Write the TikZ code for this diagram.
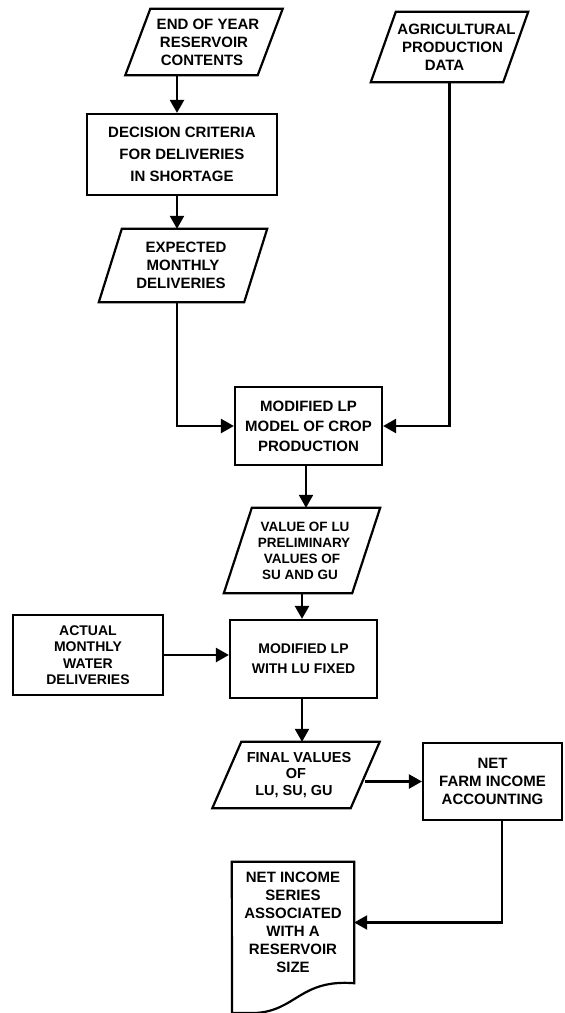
\documentclass[tikz,border=0pt]{standalone}
\usepackage{fontspec}
\setmainfont{Liberation Sans}
\usetikzlibrary{arrows.meta,calc}
\newcommand\paraframe[2]{\draw[box] ([xshift=#2pt]#1.north west) -- ([xshift=#2pt]#1.north east) -- ([xshift=-#2pt]#1.south east) -- ([xshift=-#2pt]#1.south west) -- cycle;}
\begin{document}
\begin{tikzpicture}[x=1pt,y=-1pt,
  box/.style={line width=2.2pt},
  lbl/.style={inner sep=0pt, align=center, font=\bfseries\fontsize{15}{18}\selectfont},
  rbox/.style={lbl, draw, line width=2.2pt},
  arr/.style={line width=2.4pt, -{Triangle[length=13pt,width=14pt]}}]
\path[fill=white, use as bounding box] (0,0) rectangle (565,1013);

\coordinate (colL) at (177,0);
\coordinate (colM) at (306,0);
\coordinate (colR) at (502,0);

\node[lbl, minimum width=132, minimum height=66] (eoy) at (204,42) {\hspace*{8pt}END OF YEAR\\RESERVOIR\\CONTENTS\hspace*{4pt}};
\paraframe{eoy}{12.5}
\node[lbl, minimum width=130, minimum height=70] (agri) at (449.5,47) {\hspace*{14pt}AGRICULTURAL\\\hspace*{6pt}PRODUCTION\\DATA\hspace*{10pt}};
\paraframe{agri}{12.5}
\node[rbox, minimum width=190, minimum height=81, font=\bfseries\fontsize{15}{22}\selectfont] (dec) at (182,154.5) {DECISION CRITERIA\\FOR DELIVERIES\\IN SHORTAGE};
\node[lbl, minimum width=145, minimum height=73] (exp) at (183,265.5) {\hspace*{6pt}EXPECTED\\MONTHLY\\DELIVERIES\hspace*{4pt}};
\paraframe{exp}{11.5}
\node[rbox, minimum width=147, minimum height=78, font=\bfseries\fontsize{15}{20}\selectfont] (lp1) at (308.5,426) {MODIFIED LP\\MODEL OF CROP\\PRODUCTION};
\node[lbl, minimum width=128, minimum height=85, font=\bfseries\fontsize{13.5}{16}\selectfont] (val) at (302,550.5) {\hspace*{6pt}VALUE OF LU\\\hspace*{4pt}PRELIMINARY\\VALUES OF\\SU AND GU\hspace*{4pt}};
\paraframe{val}{14}
\node[rbox, minimum width=147, minimum height=78, font=\bfseries\fontsize{14}{20}\selectfont] (lp2) at (303.5,659) {MODIFIED LP\\WITH LU FIXED};
\node[rbox, minimum width=150, minimum height=80, font=\bfseries\fontsize{14}{16.5}\selectfont] (act) at (88,655) {ACTUAL\\MONTHLY\\WATER\\DELIVERIES};
\node[lbl, minimum width=138, minimum height=66, font=\bfseries\fontsize{14.5}{16.5}\selectfont] (fin) at (296,775) {\hspace*{6pt}FINAL VALUES\\OF\\LU, SU, GU\hspace*{4pt}};
\paraframe{fin}{14.5}
\node[rbox, minimum width=139, minimum height=77] (net) at (492.5,781.5) {NET\\FARM INCOME\\ACCOUNTING};
\node[lbl, minimum width=122, minimum height=121] (ser) at (293,922.5) {NET INCOME\\SERIES\\ASSOCIATED\\WITH A\\RESERVOIR\\SIZE};
\draw[box] (ser.north west) -- (ser.north east) -- (ser.south east) .. controls (300,979) and (296,1011) .. (255,1013) -- (232,1013) -- cycle;

\draw[arr] (eoy.south -| colL) -- (dec.north -| colL);
\draw[arr] (dec.south -| colL) -- (exp.north -| colL);
\draw[arr] (exp.south -| colL) |- (lp1.west);
\draw[arr] (agri.south) |- (lp1.east);
\draw[arr] (lp1.south -| colM) -- (val.north -| colM);
\draw[arr] (val.south) -- (val.south |- lp2.north);
\draw[arr] (act.east) -- (act.east -| lp2.west);
\draw[arr] (lp2.south -| val.south) -- (fin.north -| val.south);
\draw[arr] (fin.east |- net.west) -- (net.west);
\draw[arr] (net.south -| colR) |- (ser.east);
\end{tikzpicture}
\end{document}
